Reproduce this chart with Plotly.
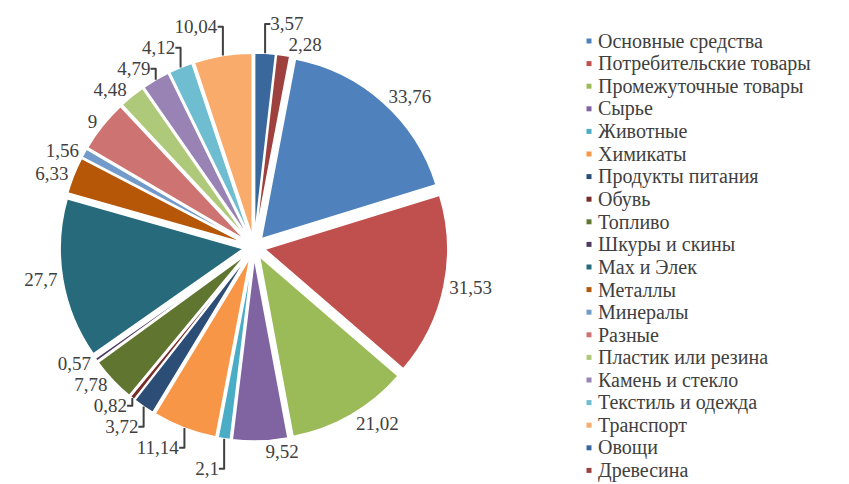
import plotly.graph_objects as go

categories = [
    "Основные средства", "Потребительские товары", "Промежуточные товары", "Сырье",
    "Животные", "Химикаты", "Продукты питания", "Обувь", "Топливо", "Шкуры и скины",
    "Мах и Элек", "Металлы", "Минералы", "Разные", "Пластик или резина",
    "Камень и стекло", "Текстиль и одежда", "Транспорт", "Овощи", "Древесина",
]
values = [33.76, 31.53, 21.02, 9.52, 2.1, 11.14, 3.72, 0.82, 7.78, 0.57,
          27.7, 6.33, 1.56, 9, 4.48, 4.79, 4.12, 10.04, 3.57, 2.28]
colors = ["#4F81BD", "#C0504D", "#9BBB59", "#8064A2", "#4BACC6", "#F79646",
          "#2C4D75", "#772C2A", "#5F7530", "#4D3B62", "#276A7C", "#B65708",
          "#729ACA", "#CD7371", "#AFC97A", "#9983B5", "#6FBDD1", "#F9AB6B",
          "#3A679C", "#9E413E"]

labels_txt = [f"{v:g}".replace(".", ",") for v in values]

W, H = 849, 484
FONT = "Liberation Serif"
TXT = "#404040"

# domain box of the pie (pixels)
cx, cy, r, pull = 254, 247, 183, 0.06
half = r * (1 + pull)

total = sum(values)
rotation = (values[-1] + values[-2]) / total * 360

fig = go.Figure(go.Pie(
    labels=categories, values=values, text=labels_txt,
    textinfo="text", textposition="outside",
    textfont=dict(family=FONT, size=19, color=TXT),
    marker=dict(colors=colors, line=dict(color="white", width=1.5)),
    sort=False, direction="clockwise", rotation=rotation,
    pull=[pull] * len(values), showlegend=False, hoverinfo="label+value",
    domain=dict(x=[(cx - half) / W, (cx + half) / W],
                y=[1 - (cy + half) / H, 1 - (cy - half) / H]),
))

# custom legend (tight rows like the original)
top_y, step = 41, 22.6
mx, tx = 589, 597
for i, (name, col) in enumerate(zip(categories, colors)):
    yc = top_y + i * step
    fig.add_shape(type="rect", xref="paper", yref="paper",
                  x0=(mx - 2.5) / W, x1=(mx + 2.5) / W,
                  y0=1 - (yc + 2.5) / H, y1=1 - (yc - 2.5) / H,
                  fillcolor=col, line=dict(width=0))
    fig.add_annotation(x=tx / W, y=1 - yc / H, xref="paper", yref="paper",
                       text=name, showarrow=False, xanchor="left", yanchor="middle",
                       borderpad=0,
                       font=dict(family=FONT, size=20, color=TXT))

fig.update_layout(
    width=W, height=H, margin=dict(l=0, r=0, t=0, b=0, autoexpand=False),
    paper_bgcolor="white", plot_bgcolor="white",
)

fig.write_html("out.html")
